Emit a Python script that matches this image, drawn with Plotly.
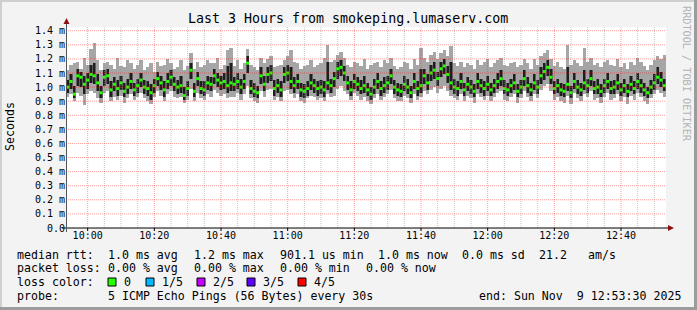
import plotly.graph_objects as go
import pandas as pd

# ---------------- data (ms), one value per minute from 09:54 to 12:53 ----------------
start = "2025-11-09 09:54:00"
n_steps = 180

median = [100,104,95,108,107,102,105,109,108,103, 96,107,108,98,102,99,103,97,100,104,
          98,101,105,100,99,96,101,106,103,98, 104,107,102,100,101,94,99,112,97,106,
          99,98,103,102,108,105,103,104,101,103, 102,104,100,104,117,99,97,96,108,102,
          109,110,99,101,98,109,110,104,101,104, 98,97,99,103,101,99,100,98,103,101,
          106,113,114,110,103,98,104,102,99,101, 98,95,100,104,99,101,103,108,100,98,
          97,102,100,96,104,99,101,108,103,110, 112,106,113,115,109,103,100,99,104,98,
          102,100,97,104,101,99,102,98,101,104, 106,99,98,101,103,97,100,106,101,98,
          103,100,108,111,114,107,99,101,98,97, 102,96,104,100,98,103,101,106,99,100,
          97,101,104,99,100,103,98,101,97,102, 99,104,101,98,96,100,103,107,105,101]

ping_max = [112,116,117,118,113,121,116,127,131,119, 112,117,118,116,113,121,115,114,119,117,
            113,116,119,112,114,117,111,118,115,116, 120,117,113,114,119,112,115,124,113,118,
            114,116,119,117,117,121,113,116,126,128, 115,119,113,117,127,116,114,112,121,117,
            120,122,114,115,116,119,122,126,118,117, 113,115,116,119,114,116,117,121,130,118,
            119,123,125,121,116,114,118,117,115,120, 113,116,117,118,114,119,117,121,115,113,
            114,118,117,113,120,116,128,121,118,123, 125,120,124,126,122,129,117,115,118,114,
            117,116,113,119,116,118,120,114,117,119, 121,116,115,117,118,114,116,120,117,113,
            120,116,122,124,126,120,115,118,114,113, 130,116,119,117,115,128,118,121,116,117,
            114,118,119,116,115,120,114,117,113,118, 116,121,118,115,112,116,119,122,120,123]

ping_min = [93,95,90,96,94,87,95,97,96,92, 89,96,97,90,93,91,94,89,92,95,
            91,93,96,92,90,88,93,97,94,90, 95,97,93,92,93,89,91,99,90,96,
            92,91,95,93,98,96,94,95,92,93, 93,96,91,95,101,92,90,89,97,93,
            98,99,91,93,90,97,98,95,92,95, 90,89,92,94,93,91,92,90,95,93,
            94,99,101,97,95,91,96,94,91,93, 90,88,92,95,91,93,95,98,92,90,
            90,94,92,89,95,91,93,97,95,98, 100,96,99,101,97,94,92,91,95,90,
            94,92,89,95,93,91,94,90,93,96, 97,91,90,93,95,89,92,97,93,90,
            95,92,98,101,102,97,91,93,90,89, 94,88,96,92,90,95,93,97,91,92,
            89,93,96,91,92,95,90,93,88,94, 91,96,93,90,88,92,95,98,96,93]

ping_q1 = [96,99,92,101,100,95,99,103,102,97, 92,101,102,93,97,94,98,93,95,99,
           94,96,100,95,94,91,96,101,98,93, 99,101,97,95,96,91,94,106,93,101,
           95,94,98,97,102,100,98,99,96,97, 97,99,95,99,110,95,93,92,102,97,
           103,104,94,96,93,103,104,99,96,99, 93,92,94,98,96,94,95,93,98,96,
           100,106,108,104,98,94,99,97,95,96, 94,91,95,99,94,96,98,102,95,94,
           93,97,95,92,99,94,96,102,98,104, 106,101,107,109,103,98,95,94,99,94,
           97,95,93,99,96,94,97,94,96,99, 101,95,94,96,98,93,95,101,96,94,
           98,95,102,105,108,102,95,96,94,93, 97,92,99,95,94,98,96,101,95,95,
           93,96,99,95,95,98,94,96,93,97, 95,99,96,94,92,95,98,102,100,97]

ping_q3 = [105,109,101,113,111,108,110,116,117,109, 101,112,113,104,107,105,108,103,106,110,
           103,106,110,105,104,102,106,111,108,104, 110,112,107,105,108,100,104,117,103,111,
           104,104,108,107,113,110,108,110,115,117, 107,110,106,109,122,105,103,101,114,108,
           114,116,105,106,104,114,116,114,107,109, 103,102,104,109,106,104,105,104,118,106,
           111,118,119,115,108,104,109,107,105,108, 103,100,106,110,104,107,108,113,105,103,
           102,108,106,101,110,104,113,113,109,116, 118,111,118,120,115,118,106,104,110,103,
           107,105,102,110,106,104,108,103,106,110, 112,105,103,106,109,102,105,112,107,103,
           109,105,114,117,119,113,104,106,103,102, 114,101,110,105,103,112,106,112,104,106,
           102,106,110,104,105,109,103,106,102,108, 104,110,106,103,100,105,109,114,111,106]

y_ticks = [0.0, 0.1, 0.2, 0.3, 0.4, 0.5, 0.6, 0.7, 0.8, 0.9, 1.0, 1.1, 1.2, 1.3, 1.4]
y_tick_text = ["0.0", "0.1 m", "0.2 m", "0.3 m", "0.4 m", "0.5 m", "0.6 m", "0.7 m",
               "0.8 m", "0.9 m", "1.0 m", "1.1 m", "1.2 m", "1.3 m", "1.4 m"]
x_major = ["10:00", "10:20", "10:40", "11:00", "11:20", "11:40", "12:00", "12:20", "12:40"]

loss_labels = ["0", "1/5", "2/5", "3/5", "4/5"]
loss_colors = ["#26ff00", "#00b8ff", "#c600ff", "#5e00ff", "#ff0000"]

stats_line1 = ["median rtt:", "1.0 ms avg", "1.2 ms max", "901.1 us min", "1.0 ms now",
               "0.0 ms sd", "21.2", "am/s"]
stats_line2 = ["packet loss:", "0.00 % avg", "0.00 % max", "0.00 % min", "0.00 % now"]
probe_text = "5 ICMP Echo Pings (56 Bytes) every 30s"
end_text = "end: Sun Nov  9 12:53:30 2025"
title_text = "Last 3 Hours from smokeping.lumaserv.com"

# ---------------- geometry ----------------
W, H = 697, 310
L, R, T, B = 66, 666, 27, 228
YMAX = 1.4265
t0 = pd.Timestamp("2025-11-09 09:53:30")
t1 = pd.Timestamp("2025-11-09 12:53:30")


def px(X):
    return (X - L) / (R - L)


def py(Y):
    return (B - Y) / (B - T)


FONT = "DejaVu Sans Mono"
times = pd.date_range(start, periods=n_steps, freq="60s")
med = [v / 100 for v in median]
lo = [v / 100 for v in ping_min]
hi = [v / 100 for v in ping_max]
q1 = [v / 100 for v in ping_q1]
q3 = [v / 100 for v in ping_q3]

fig = go.Figure()
fig.add_trace(go.Bar(x=times, base=lo, y=[h - l for h, l in zip(hi, lo)], width=60000,
                     marker=dict(color="#a6a6a6", line=dict(width=0)), hoverinfo="skip"))
fig.add_trace(go.Bar(x=times, base=q1, y=[h - l for h, l in zip(q3, q1)], width=60000,
                     marker=dict(color="#5e5e5e", line=dict(width=0)), hoverinfo="skip"))
fig.add_trace(go.Bar(x=times, base=q1, y=[h - l for h, l in zip(q3, q1)], width=22000,
                     marker=dict(color="#1e1e1e", line=dict(width=0)), hoverinfo="skip"))
fig.add_trace(go.Scatter(x=times, y=med, mode="markers",
                         marker=dict(symbol="square", size=3, color="#26ff00", line=dict(width=0)),
                         hoverinfo="skip"))

shapes = []
# grid (drawn above data, like rrdtool)
for i in range(37):
    t = t0 + pd.Timedelta(minutes=6.5) + pd.Timedelta(minutes=5 * i)
    if t > t1:
        break
    major = t.minute % 20 == 0
    shapes.append(dict(type="line", xref="x", yref="paper", x0=t, x1=t, y0=0, y1=1,
                       line=dict(color="rgba(255,0,0,0.38)" if major else "rgba(150,150,150,0.55)",
                                 width=1, dash="1px,1px"), layer="above"))
    if major:
        shapes.append(dict(type="line", xref="x", yref="paper", x0=t, x1=t, y0=0, y1=py(231),
                           line=dict(color="#000000", width=1), layer="above"))
for v in y_ticks[1:]:
    shapes.append(dict(type="line", xref="paper", yref="y", x0=0, x1=1, y0=v, y1=v,
                       line=dict(color="rgba(255,0,0,0.38)", width=1, dash="1px,1px"), layer="above"))

# axes
shapes.append(dict(type="line", xref="paper", yref="paper", x0=px(62), x1=px(671), y0=0, y1=0,
                   line=dict(color="#000000", width=1), layer="above"))
shapes.append(dict(type="line", xref="paper", yref="paper", x0=px(66.5), x1=px(66.5), y0=py(232), y1=py(22),
                   line=dict(color="#555555", width=1), layer="above"))
shapes.append(dict(type="path", xref="paper", yref="paper",
                   path=f"M {px(63.5)} {py(24)} L {px(69.5)} {py(24)} L {px(66.5)} {py(18)} Z",
                   fillcolor="#8b1010", line=dict(width=0), layer="above"))
shapes.append(dict(type="path", xref="paper", yref="paper",
                   path=f"M {px(668)} {py(225)} L {px(668)} {py(231)} L {px(674)} {py(228)} Z",
                   fillcolor="#8b1010", line=dict(width=0), layer="above"))

# image border
shapes += [
    dict(type="rect", xref="paper", yref="paper", x0=px(0), x1=px(697), y0=py(0), y1=py(2),
         fillcolor="#cfcfcf", line=dict(width=0), layer="below"),
    dict(type="rect", xref="paper", yref="paper", x0=px(0), x1=px(2), y0=py(0), y1=py(310),
         fillcolor="#cfcfcf", line=dict(width=0), layer="below"),
    dict(type="rect", xref="paper", yref="paper", x0=px(694), x1=px(697), y0=py(0), y1=py(310),
         fillcolor="#9c9c9c", line=dict(width=0), layer="below"),
    dict(type="rect", xref="paper", yref="paper", x0=px(0), x1=px(697), y0=py(307), y1=py(310),
         fillcolor="#9c9c9c", line=dict(width=0), layer="below"),
]

annotations = []


def txt(X, Y, s, size=11.6, color="#000000", anchor="left", angle=0):
    annotations.append(dict(x=px(X), y=py(Y), xref="paper", yref="paper", text=s, showarrow=False,
                            xanchor=anchor, yanchor="middle", textangle=angle, borderpad=0,
                            font=dict(family=FONT, size=size, color=color)))


txt(348, 19, title_text, size=13.3, anchor="center")
txt(10, 127, "Seconds", size=11.6, anchor="center", angle=-90)
txt(687, 74, "RRDTOOL / TOBI OETIKER", size=10.2, color="#b4b4b4", anchor="center", angle=90)

x1_pos = [16, 107, 193, 279, 377, 461, 538, 587]
for X, s in zip(x1_pos, stats_line1):
    txt(X, 255, s)
x2_pos = [16, 107, 193, 279, 365]
for X, s in zip(x2_pos, stats_line2):
    txt(X, 268, s)
txt(16, 282, "loss color:")
box_x = [108, 146, 197, 247, 298]
for X, lab, col in zip(box_x, loss_labels, loss_colors):
    shapes.append(dict(type="rect", xref="paper", yref="paper", x0=px(X), x1=px(X + 8),
                       y0=py(278), y1=py(286), fillcolor=col, line=dict(color="#000000", width=1)))
    txt(X + 15, 282, lab)
txt(16, 296, "probe:")
txt(107, 296, probe_text)
txt(478, 296, end_text)

fig.update_layout(
    width=W, height=H,
    margin=dict(l=L, r=W - R, t=T, b=H - B, pad=0),
    paper_bgcolor="#f3f3f3", plot_bgcolor="#ffffff",
    barmode="overlay", showlegend=False, bargap=0,
    shapes=shapes, annotations=annotations,
    font=dict(family=FONT, size=10, color="#000000"),
    xaxis=dict(type="date", range=[t0, t1], showgrid=False, zeroline=False, showline=False,
               tickvals=[pd.Timestamp("2025-11-09 " + s) for s in x_major], ticktext=x_major,
               ticks="", tickfont=dict(family=FONT, size=10, color="#000000")),
    yaxis=dict(range=[0, YMAX], showgrid=False, zeroline=False, showline=False,
               tickvals=y_ticks, ticktext=y_tick_text, ticks="",
               tickfont=dict(family=FONT, size=10, color="#000000")),
)

fig.write_html("out.html")
